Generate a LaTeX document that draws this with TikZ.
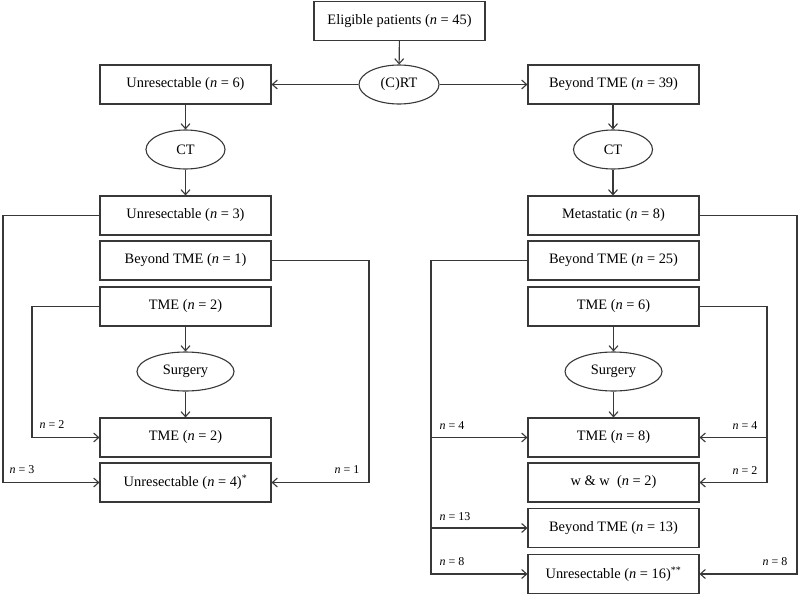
\documentclass[tikz,border=0pt]{standalone}
\usepackage{fontspec}
\setmainfont{Liberation Serif}
\usetikzlibrary{arrows.meta,shapes.geometric}
\begin{document}
\begin{tikzpicture}[x=1pt,y=-1pt,
  line/.style={draw=black!78,line width=1.1pt},
  arr/.style={line,-{Straight Barb[length=5pt,width=9pt]}},
  boxn/.style={line,rectangle,minimum width=171pt,minimum height=39pt,inner sep=0pt,font=\fontsize{14.4}{17}\selectfont},
  ell/.style={line,ellipse,minimum height=39pt,inner sep=0pt,font=\fontsize{14.4}{17}\selectfont},
  lab/.style={inner sep=0pt,font=\fontsize{12}{14}\selectfont}]
\useasboundingbox (0,0) rectangle (800,600);
% top
\node[boxn] (elig) at (399.5,21) {Eligible patients (\textit{n} = 45)};
\node[ell,minimum width=80pt] (crt) at (399,84.5) {(C)RT};
\node[boxn] (u6) at (185.5,84.5) {Unresectable (\textit{n} = 6)};
\node[boxn] (b39) at (613.5,84.5) {Beyond TME (\textit{n} = 39)};
\node[ell,minimum width=79pt] (ctl) at (185.5,149.5) {CT};
\node[ell,minimum width=79pt] (ctr) at (613,149.5) {CT};
% left column
\node[boxn] (u3) at (185.5,215.5) {Unresectable (\textit{n} = 3)};
\node[boxn] (b1) at (185.5,260.5) {Beyond TME (\textit{n} = 1)};
\node[boxn] (t2) at (185.5,306.5) {TME (\textit{n} = 2)};
\node[ell,minimum width=97pt] (sl) at (185.5,371.5) {Surgery};
\node[boxn] (t2b) at (185.5,437.5) {TME (\textit{n} = 2)};
\node[boxn] (u4) at (185.5,482.5) {Unresectable (\textit{n} = 4)\textsuperscript{*}};
% right column
\node[boxn] (met) at (613.5,215.5) {Metastatic (\textit{n} = 8)};
\node[boxn] (b25) at (613.5,260.5) {Beyond TME (\textit{n} = 25)};
\node[boxn] (t6) at (613.5,306.5) {TME (\textit{n} = 6)};
\node[ell,minimum width=97pt] (sr) at (613.5,371.5) {Surgery};
\node[boxn] (t8) at (613.5,437.5) {TME (\textit{n} = 8)};
\node[boxn] (ww) at (613.5,482.5) {w \& w\ \ (\textit{n} = 2)};
\node[boxn] (b13) at (613.5,528) {Beyond TME (\textit{n} = 13)};
\node[boxn] (u16) at (613.5,574) {Unresectable (\textit{n} = 16)\textsuperscript{**}};
% straight arrows
\draw[arr] (elig) -- (crt);
\draw[arr] (crt) -- (u6);
\draw[arr] (crt) -- (b39);
\draw[arr] (u6) -- (ctl);
\draw[arr] (ctl) -- (u3);
\draw[arr] (b39.south -| ctr) -- (ctr);
\draw[arr] (ctr) -- (ctr |- met.north);
\draw[arr] (t2) -- (sl);
\draw[arr] (sl) -- (t2b);
\draw[arr] (t6.south -| sr) -- (sr);
\draw[arr] (sr) -- (sr |- t8.north);
% left side connectors
\coordinate (L1) at (3,215.5);
\coordinate (L2) at (32,306.5);
\coordinate (L3) at (369,260.5);
\draw[arr] (u3.west) -- (L1) |- (u4.west);
\draw[arr] (t2.west) -- (L2) |- (t2b.west);
\draw[arr] (b1.east) -- (L3) |- (u4.east);
% right side connectors
\coordinate (R1) at (431,260.5);
\coordinate (R2) at (767,306.5);
\coordinate (R3) at (797,215.5);
\draw[arr] (b25.west) -- (R1) |- (u16.west);
\draw[arr] (R1 |- t8.west) -- (t8.west);
\draw[arr] (R1 |- b13.west) -- (b13.west);
\draw[arr] (t6.east) -- (R2) |- (ww.east);
\draw[arr] (R2 |- t8.east) -- (t8.east);
\draw[arr] (met.east) -- (R3) |- (u16.east);
% labels
\node[lab] (l3) at (22,470) {\textit{n} = 3};
\node[lab] (l2) at (52,425) {\textit{n} = 2};
\node[lab] (l1) at (347,470) {\textit{n} = 1};
\node[lab] (r4a) at (452,426) {\textit{n} = 4};
\node[lab] (r13) at (455,517) {\textit{n} = 13};
\node[lab] (r8a) at (452,562) {\textit{n} = 8};
\node[lab] (r4b) at (745,426) {\textit{n} = 4};
\node[lab] (r2) at (745,471) {\textit{n} = 2};
\node[lab] (r8b) at (775,562) {\textit{n} = 8};
\end{tikzpicture}
\end{document}
